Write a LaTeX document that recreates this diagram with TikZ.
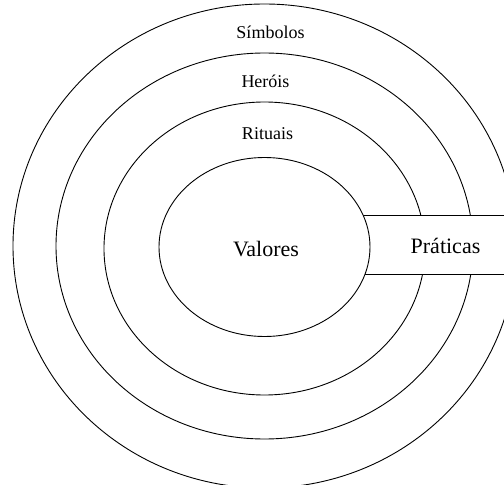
\documentclass[tikz,border=0pt]{standalone}
\usepackage{fontspec}
\setmainfont{Liberation Serif}

\begin{document}
\begin{tikzpicture}[x=1pt,y=1pt,line width=0.9pt,
        layer/.style={font=\fontsize{18}{20}\selectfont},
        core/.style={font=\fontsize{22}{24}\selectfont}]
        \useasboundingbox (-264.5,-238) rectangle (239.5,247);
        \clip (-264.5,-238) rectangle (239.5,247);
        \coordinate (o) at (0,0);

        % rings
        \draw ([yshift=1pt]o) ellipse [x radius=251.5, y radius=242];
        \draw ([yshift=1pt]o) ellipse [x radius=208.5, y radius=193];
        \draw ([yshift=-1.5pt]o) ellipse [x radius=160.5, y radius=146.5];

        % band across the rings
        \draw[fill=white] (0,-27) rectangle (250,32);
        \draw[fill=white] (o) ellipse [x radius=105.5, y radius=89.5];

        \node[core] (valores) at (1.5,-2) {Valores};
        \node[core] (praticas) at (181,1) {Práticas};
        \node[layer] (simbolos) at (6,215) {Símbolos};
        \node[layer] (herois) at (1,166) {Heróis};
        \node[layer] (rituais) at (3,113) {Rituais};
    \end{tikzpicture}
\end{document}
